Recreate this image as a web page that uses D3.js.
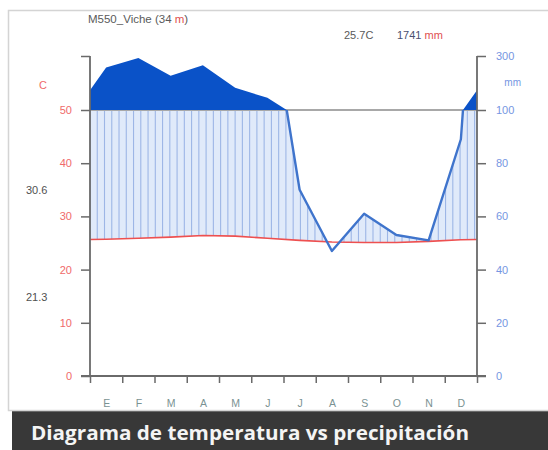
<!DOCTYPE html>
<html>
<head>
<meta charset="utf-8">
<script src="https://cdn.jsdelivr.net/npm/d3@7"></script>
<style>
  html, body { margin: 0; padding: 0; background: #fff; }
  svg { display: block; }
</style>
</head>
<body>
<svg id="chart" width="548" height="450"></svg>
<script>
// Climate diagram (Walter-Lieth style) for station M550 Viche
const months = ["E", "F", "M", "A", "M", "J", "J", "A", "S", "O", "N", "D"];
const tempC = [25.7, 25.9, 26.1, 26.4, 26.3, 25.9, 25.5, 25.2, 25.1, 25.1, 25.3, 25.6];
const precipMm = [257, 293, 227, 266, 182, 145, 70, 47, 61, 53, 51, 89];
const tempTicks = [0, 10, 20, 30, 40, 50, 60];
const precipTicks = [0, 20, 40, 60, 80, 100, 300];
const stationName = "M550_Viche (34 ";
const meanTempLabel = "25.7C";
const totalPrecipLabel = "1741";
const maxTempLabel = "30.6";
const minTempLabel = "21.3";
const bannerTitle = "Diagrama de temperatura vs precipitación";

const svg = d3.select("#chart");

const plotL = 90, plotR = 477, plotT = 56, plotB = 376;

const x = d3.scaleLinear().domain([0, 12]).range([plotL, plotR]);
const yT = d3.scaleLinear().domain([0, 50, 60]).range([plotB, 110, plotT]);
const yP = d3.scaleLinear().domain([0, 100, 300]).range([plotB, 110, plotT]);

// frame and caption banner
svg.append("rect").attr("x", 8.5).attr("y", 10.5).attr("width", 600).attr("height", 400)
  .attr("fill", "#fff").attr("stroke", "#d4d4d4").attr("stroke-width", 1.5);
svg.append("rect").attr("x", 12).attr("y", 411).attr("width", 540).attr("height", 39)
  .attr("fill", "#383838");
svg.append("line").attr("x1", 12).attr("x2", 548).attr("y1", 411.5).attr("y2", 411.5)
  .attr("stroke", "#6a6a6a").attr("stroke-width", 1);
svg.append("text").attr("x", 31).attr("y", 440)
  .attr("font-family", "'Open Sans', Lato, sans-serif").attr("font-weight", 700)
  .attr("font-size", 20).attr("fill", "#f4f4f4")
  .attr("textLength", 438).attr("lengthAdjust", "spacingAndGlyphs")
  .text(bannerTitle);

// curves: month centres plus both edges closed with the Dec/Jan mean
const edgeP = (precipMm[0] + precipMm[11]) / 2;
const edgeT = (tempC[0] + tempC[11]) / 2;
const pRaw = [{ m: 0, p: edgeP }]
  .concat(precipMm.map((p, i) => ({ m: i + 0.5, p })))
  .concat([{ m: 12, p: edgeP }]);
// split segments where they cross the 100 mm scale change
const pPts = [];
pRaw.forEach((d, i) => {
  if (i > 0) {
    const a = pRaw[i - 1];
    if ((a.p - 100) * (d.p - 100) < 0) {
      const f = (100 - a.p) / (d.p - a.p);
      pPts.push({ m: a.m + f * (d.m - a.m), p: 100 });
    }
  }
  pPts.push(d);
});
const tPts = [{ m: 0, t: edgeT }]
  .concat(tempC.map((t, i) => ({ m: i + 0.5, t })))
  .concat([{ m: 12, t: edgeT }]);

const defs = svg.append("defs");
defs.append("clipPath").attr("id", "aboveTemp").append("path")
  .attr("d", d3.area().x(d => x(d.m)).y0(d => yT(d.t)).y1(plotT)(tPts));
defs.append("clipPath").attr("id", "belowPrecip").append("path")
  .attr("d", d3.area().x(d => x(d.m)).y0(plotB).y1(d => yP(Math.min(d.p, 100)))(pPts));
defs.append("clipPath").attr("id", "below100").append("rect")
  .attr("x", plotL - 5).attr("y", yP(100)).attr("width", plotR - plotL + 10)
  .attr("height", plotB - yP(100) + 5);

// humid period: light fill with vertical hatching
const humid = svg.append("g").attr("clip-path", "url(#aboveTemp)")
  .append("g").attr("clip-path", "url(#belowPrecip)");
humid.append("rect").attr("x", plotL).attr("y", plotT).attr("width", plotR - plotL)
  .attr("height", plotB - plotT).attr("fill", "#e0eafa");
const hatchStep = 0.225;
humid.selectAll("line.hatch").data(d3.range(0, 12 + hatchStep, hatchStep)).join("line")
  .attr("class", "hatch")
  .attr("x1", d => x(d)).attr("x2", d => x(d))
  .attr("y1", plotT).attr("y2", plotB)
  .attr("stroke", "#9db6e6").attr("stroke-width", 1.1);

// 100 mm reference line
svg.append("line").attr("x1", plotL).attr("x2", plotR).attr("y1", yP(100)).attr("y2", yP(100))
  .attr("stroke", "#a8a8a8").attr("stroke-width", 2);

// precipitation above 100 mm, solid
svg.append("path")
  .attr("d", d3.area().x(d => x(d.m)).y0(yP(100)).y1(d => yP(Math.max(d.p, 100)))(pPts))
  .attr("fill", "#0a52c8");

// temperature line
svg.append("path").datum(tPts)
  .attr("d", d3.line().x(d => x(d.m)).y(d => yT(d.t)))
  .attr("fill", "none").attr("stroke", "#ee5050").attr("stroke-width", 1.6);

// precipitation line (below the 100 mm line)
svg.append("g").attr("clip-path", "url(#below100)")
  .append("path").datum(pPts)
  .attr("d", d3.line().x(d => x(d.m)).y(d => yP(d.p)))
  .attr("fill", "none").attr("stroke", "#3f74cc").attr("stroke-width", 2.4)
  .attr("stroke-linejoin", "round");

// axes
const axisColor = "#6a6a6a";
function styleAxis(g, color) {
  g.select(".domain").remove();
  g.selectAll(".tick line").attr("stroke", axisColor).attr("stroke-width", 1.5);
  g.selectAll(".tick text").attr("fill", color)
    .attr("font-family", "'Liberation Sans', Arial, sans-serif").attr("font-size", 11);
}
const gL = svg.append("g").attr("transform", `translate(${plotL},0)`)
  .call(d3.axisLeft(yT).tickValues(tempTicks).tickSize(9).tickPadding(9)
    .tickFormat(d => d === 60 ? "" : d));
styleAxis(gL, "#f06a6a");
const gR = svg.append("g").attr("transform", `translate(${plotR},0)`)
  .call(d3.axisRight(yP).tickValues(precipTicks).tickSize(9).tickPadding(10));
styleAxis(gR, "#7696e2");
const gB = svg.append("g").attr("transform", `translate(0,${plotB})`)
  .call(d3.axisBottom(x).tickValues(d3.range(0, 13)).tickSize(7).tickFormat(""));
styleAxis(gB, axisColor);
const gM = svg.append("g").attr("transform", `translate(0,${plotB})`)
  .call(d3.axisBottom(x).tickValues(d3.range(12).map(i => i + 0.5)).tickSize(0)
    .tickPadding(24).tickFormat((d, i) => months[i]));
styleAxis(gM, "#7a9292");
gM.selectAll(".tick text").attr("font-size", 10.5);

svg.append("line").attr("x1", plotL).attr("x2", plotL).attr("y1", plotT).attr("y2", plotB)
  .attr("stroke", axisColor).attr("stroke-width", 1.8);
svg.append("line").attr("x1", plotR).attr("x2", plotR).attr("y1", plotT).attr("y2", plotB)
  .attr("stroke", axisColor).attr("stroke-width", 1.8);
svg.append("line").attr("x1", plotL - 9).attr("x2", plotR + 9).attr("y1", plotB).attr("y2", plotB)
  .attr("stroke", axisColor).attr("stroke-width", 1.8);

// text annotations
const font = "'Liberation Sans', Arial, sans-serif";
svg.append("text").attr("x", 43).attr("y", 89).attr("text-anchor", "middle")
  .attr("font-family", font).attr("font-size", 11).attr("fill", "#f06a6a").text("C");
svg.append("text").attr("x", 521).attr("y", 86).attr("text-anchor", "end")
  .attr("font-family", font).attr("font-size", 10).attr("fill", "#7696e2").text("mm");
svg.append("text").attr("x", 26).attr("y", 194)
  .attr("font-family", font).attr("font-size", 11).attr("fill", "#505050").text(maxTempLabel);
svg.append("text").attr("x", 26).attr("y", 301)
  .attr("font-family", font).attr("font-size", 11).attr("fill", "#505050").text(minTempLabel);

const title = svg.append("text").attr("x", 88).attr("y", 23)
  .attr("font-family", font).attr("font-size", 11.5).attr("fill", "#5a5a5a");
title.append("tspan").text(stationName);
title.append("tspan").attr("fill", "#e05050").text("m");
title.append("tspan").text(")");

svg.append("text").attr("x", 344).attr("y", 39)
  .attr("font-family", font).attr("font-size", 11).attr("fill", "#5a5a5a").text(meanTempLabel);
const tot = svg.append("text").attr("x", 397).attr("y", 39)
  .attr("font-family", font).attr("font-size", 11).attr("fill", "#4a5070");
tot.append("tspan").text(totalPrecipLabel + " ");
tot.append("tspan").attr("fill", "#e05050").text("mm");
</script>
</body>
</html>
